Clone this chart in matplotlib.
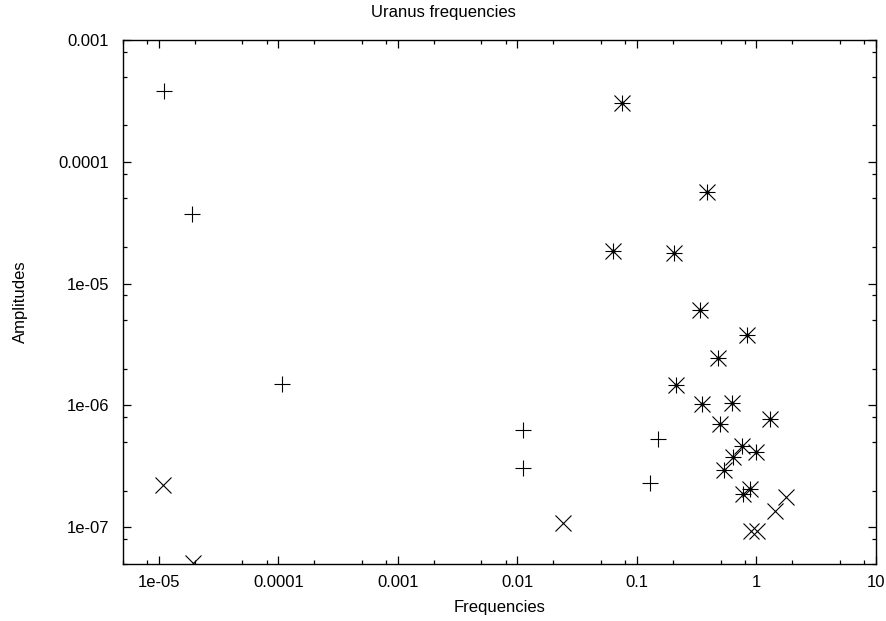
import matplotlib
matplotlib.use('Agg')
import matplotlib.pyplot as plt
from matplotlib.ticker import LogLocator, FuncFormatter, NullFormatter

# Values (frequency, amplitude)
plus_freq = [1.10e-5, 1.89e-5, 1.07e-4, 0.0111, 0.0111, 0.150, 0.128]
plus_amp = [3.81e-4, 3.72e-5, 1.49e-6, 6.32e-7, 3.08e-7, 5.26e-7, 2.32e-7]

cross_freq = [1.09e-5, 1.94e-5, 0.0242, 0.90, 1.01, 1.43, 1.76]
cross_amp = [2.23e-7, 5.1e-8, 1.09e-7, 9.3e-8, 9.3e-8, 1.35e-7, 1.77e-7]

star_freq = [0.0748, 0.382, 0.0636, 0.203, 0.340, 0.834, 0.480, 0.214, 0.352,
             0.620, 1.29, 0.492, 0.757, 0.99, 0.632, 0.534, 0.891, 0.778]
star_amp = [3.05e-4, 5.61e-5, 1.84e-5, 1.77e-5, 6.12e-6, 3.77e-6, 2.45e-6, 1.46e-6, 1.02e-6,
            1.05e-6, 7.80e-7, 7.08e-7, 4.64e-7, 4.14e-7, 3.77e-7, 2.96e-7, 2.07e-7, 1.88e-7]

plt.rcParams['font.family'] = ['Liberation Sans', 'DejaVu Sans']
plt.rcParams['font.size'] = 12

fig = plt.figure(figsize=(8.86, 6.21), dpi=100)
ax = fig.add_axes([0.1388, 0.0918, 0.8499, 0.8438])

ms = 11.5
mew = 0.8
ax.plot(plus_freq, plus_amp, linestyle='none', marker='+', ms=ms, mew=mew, color='black')
ax.plot(cross_freq, cross_amp, linestyle='none', marker='x', ms=ms, mew=mew, color='black')
# gnuplot-style asterisk: a plus and a cross drawn on top of each other
ax.plot(star_freq, star_amp, linestyle='none', marker='+', ms=ms, mew=mew, color='black')
ax.plot(star_freq, star_amp, linestyle='none', marker='x', ms=ms, mew=mew, color='black')
ax.plot(star_freq, star_amp, linestyle='none', marker='o', ms=2, color='black')

ax.set_xscale('log')
ax.set_yscale('log')
ax.set_xlim(5e-6, 10)
ax.set_ylim(5e-8, 1e-3)

fmt = FuncFormatter(lambda v, pos: '%g' % v)
for axis in (ax.xaxis, ax.yaxis):
    axis.set_major_locator(LogLocator(base=10, numticks=20))
    axis.set_minor_locator(LogLocator(base=10, subs=(2, 5, 8), numticks=20))
    axis.set_major_formatter(fmt)
    axis.set_minor_formatter(NullFormatter())

ax.tick_params(which='both', direction='in', top=True, right=True, width=0.9)
ax.tick_params(which='major', length=6)
ax.tick_params(which='minor', length=3)
ax.tick_params(axis='y', pad=10)
ax.tick_params(axis='x', pad=8)
for s in ax.spines.values():
    s.set_linewidth(1.0)

# gnuplot centres the title on the whole canvas, not on the plot box
fig.text(0.5, 1 - 12 / 621, 'Uranus frequencies', ha='center', va='center', fontsize=12)
ax.set_xlabel('Frequencies', labelpad=7)
ax.set_ylabel('Amplitudes', labelpad=22)

fig.savefig('out.png', dpi=100)
